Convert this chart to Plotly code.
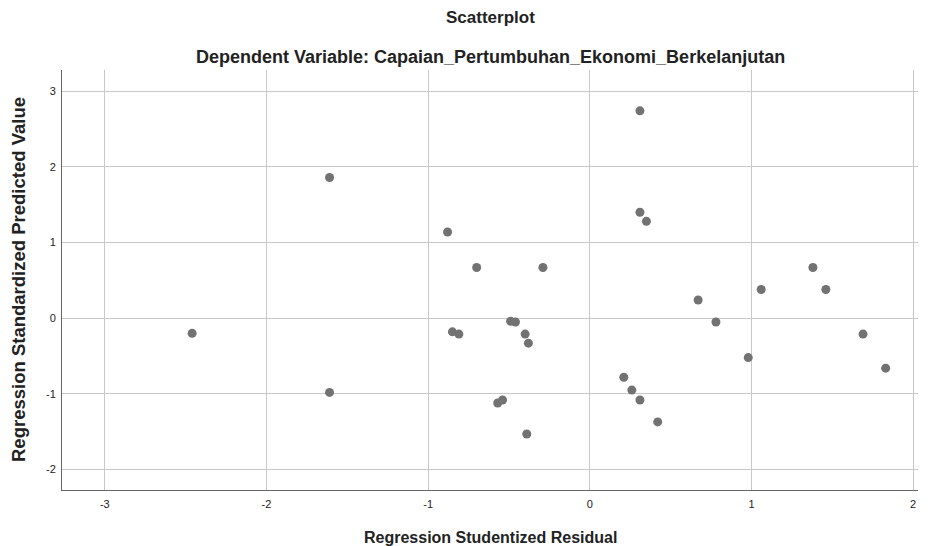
import plotly.graph_objects as go

residual = [0.31, -1.61, 0.31, 0.35, -0.88, -0.70, -0.29, 1.38, 0.67, 1.06,
            1.46, -2.46, -0.85, -0.81, -0.49, -0.46, -0.40, -0.38, 0.78, 0.98,
            1.69, 1.83, -1.61, -0.57, -0.54, -0.39, 0.21, 0.26, 0.31, 0.42]
predicted = [2.74, 1.86, 1.40, 1.28, 1.14, 0.67, 0.67, 0.67, 0.24, 0.38,
             0.38, -0.20, -0.18, -0.21, -0.04, -0.05, -0.21, -0.33, -0.05, -0.52,
             -0.21, -0.66, -0.98, -1.12, -1.08, -1.53, -0.78, -0.95, -1.08, -1.37]
x_ticks = [-3, -2, -1, 0, 1, 2]
y_ticks = [-2, -1, 0, 1, 2, 3]

font = "Liberation Sans, Arial, sans-serif"

fig = go.Figure(go.Scatter(
    x=residual, y=predicted, mode="markers",
    marker=dict(size=9, color="#727272", line=dict(width=0)),
    hoverinfo="x+y"))

fig.update_layout(
    width=947, height=546,
    margin=dict(l=54, r=37, t=62, b=64, autoexpand=False),
    paper_bgcolor="white", plot_bgcolor="white",
    showlegend=False,
    font=dict(family=font, color="#222222"),
    annotations=[
        dict(text="<b>Scatterplot</b>", xref="paper", yref="paper", x=0.5, y=1,
             yshift=53, yanchor="middle", showarrow=False,
             font=dict(size=17, family=font, color="#222")),
        dict(text="<b>Dependent Variable: Capaian_Pertumbuhan_Ekonomi_Berkelanjutan</b>",
             xref="paper", yref="paper", x=0.5, y=1, yshift=13, yanchor="middle",
             showarrow=False, font=dict(size=18, family=font, color="#222")),
        dict(text="<b>Regression Studentized Residual</b>", xref="paper", yref="paper",
             x=0.5, y=0, yshift=-47, yanchor="middle", showarrow=False,
             font=dict(size=16, family=font, color="#222")),
        dict(text="<b>Regression Standardized Predicted Value</b>", xref="paper",
             yref="paper", x=0, xshift=-44, y=0.5, xanchor="center", yanchor="middle",
             textangle=-90, showarrow=False,
             font=dict(size=18.5, family=font, color="#222")),
    ],
)
fig.update_xaxes(
    range=[-3.265, 2.03], tickvals=x_ticks, ticktext=[str(v) for v in x_ticks],
    showgrid=True, gridcolor="#c8c8c8", gridwidth=1, zeroline=False,
    showline=True, linecolor="#666666", linewidth=1, ticks="", automargin=False,
    ticklabelstandoff=4,
    tickfont=dict(size=11, family=font, color="#222"),
)
fig.update_yaxes(
    range=[-2.27, 3.28], tickvals=y_ticks, ticktext=[str(v) for v in y_ticks],
    showgrid=True, gridcolor="#c8c8c8", gridwidth=1, zeroline=False,
    showline=True, linecolor="#666666", linewidth=1, ticks="", automargin=False,
    ticklabelstandoff=3,
    tickfont=dict(size=11, family=font, color="#222"),
)
fig.write_html("out.html")
